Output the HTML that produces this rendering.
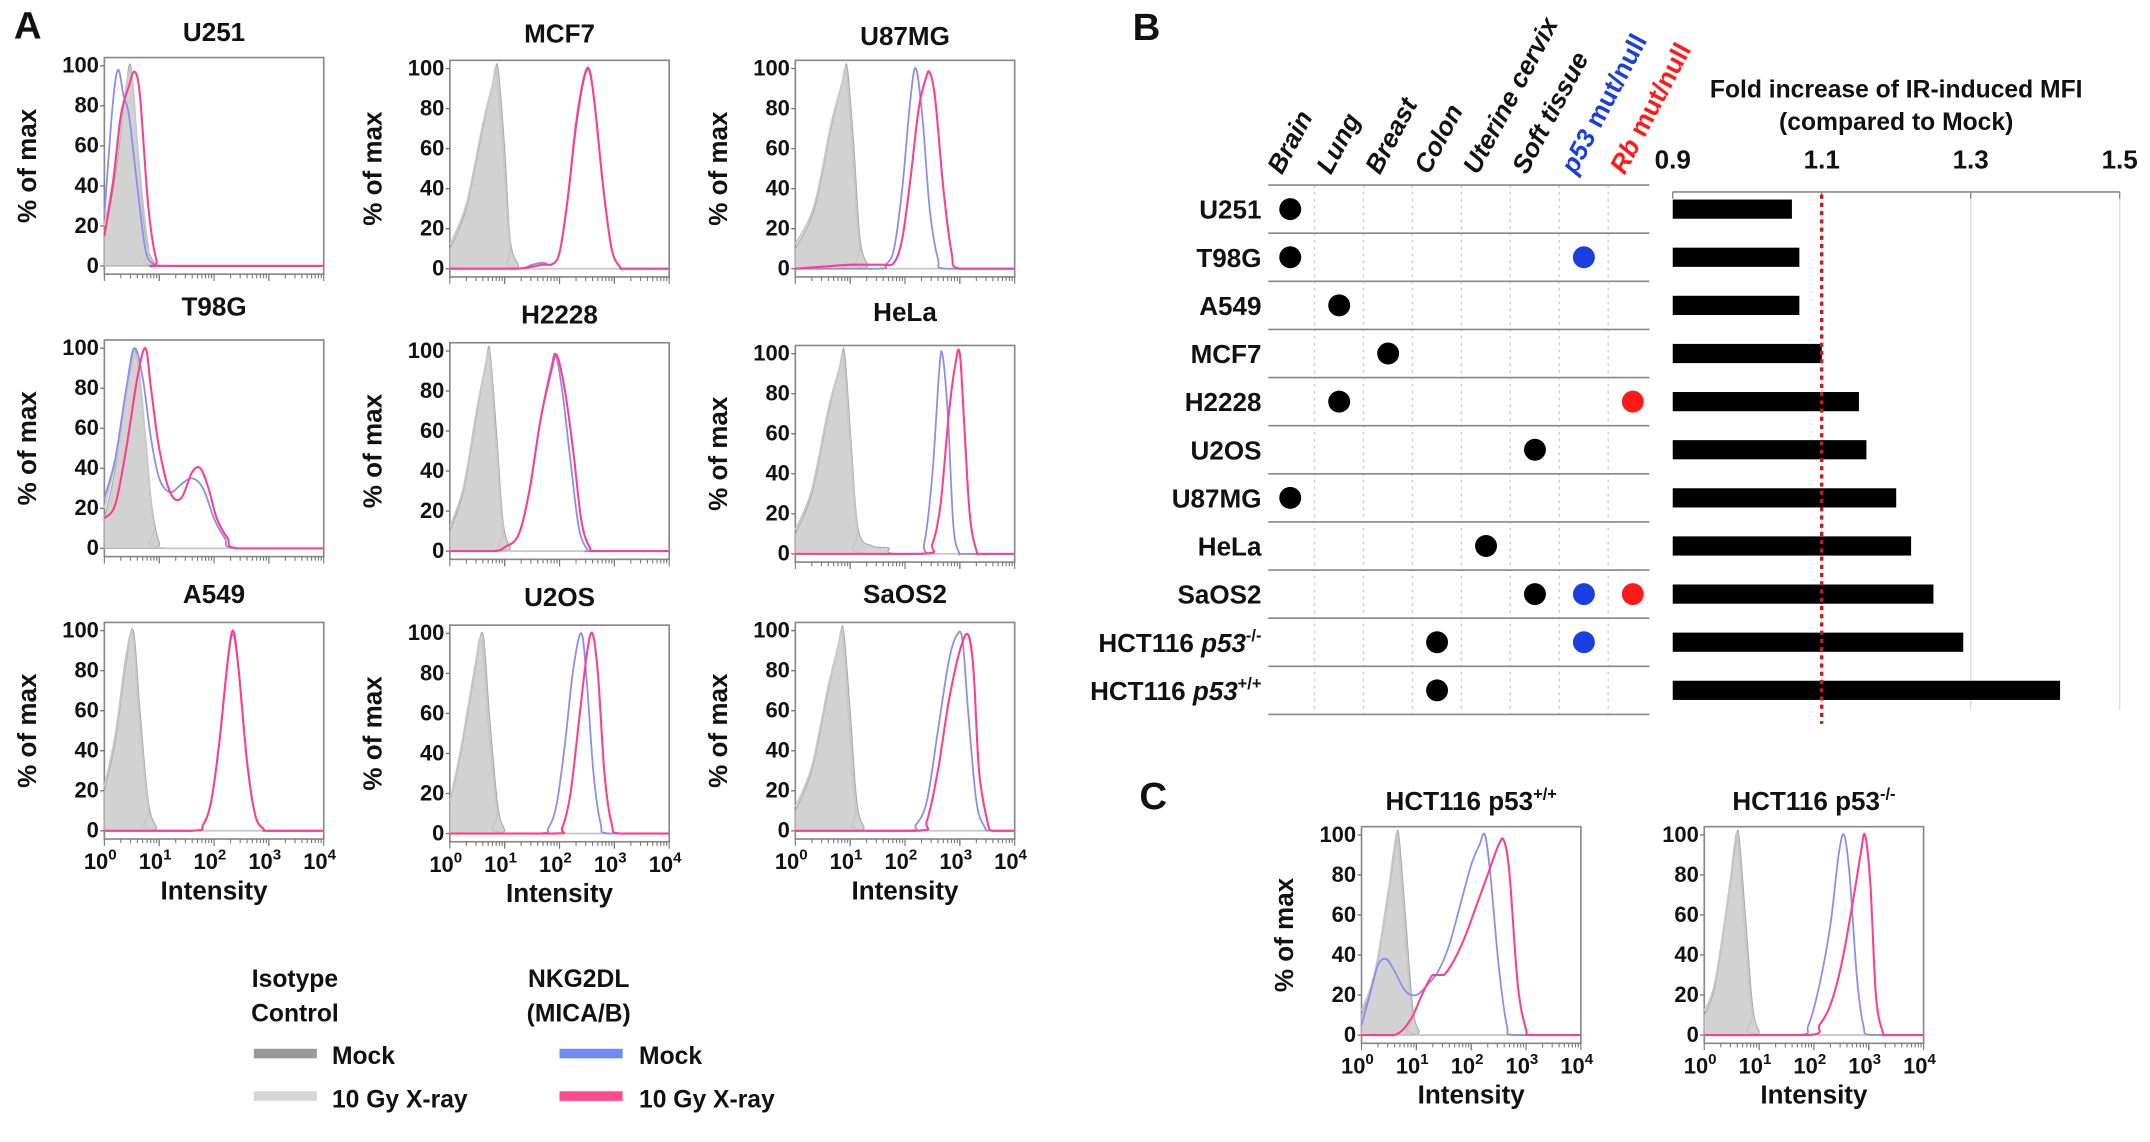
<!DOCTYPE html>
<html><head><meta charset="utf-8"><style>
html,body{margin:0;padding:0;background:#fff}
svg{display:block}
text{font-family:"Liberation Sans",Arial,sans-serif;font-weight:bold}
</style></head><body>
<svg id="fig" width="2150" height="1142" viewBox="0 0 1568 833" xmlns="http://www.w3.org/2000/svg" fill="#111">
<text x="10" y="28" font-size="28">A</text>
<text x="826" y="29" font-size="28">B</text>
<text x="831" y="590" font-size="28">C</text>
<g id="legend">
<text x="215" y="720" font-size="18" text-anchor="middle">Isotype</text>
<text x="215" y="745" font-size="18" text-anchor="middle">Control</text>
<rect x="185" y="765" width="46" height="7" fill="#9a9a9a"/>
<text x="242" y="776" font-size="18">Mock</text>
<rect x="185" y="796" width="46" height="7" fill="#d6d6d6"/>
<text x="242" y="808" font-size="18">10 Gy X-ray</text>
<text x="422" y="720" font-size="18" text-anchor="middle">NKG2DL</text>
<text x="422" y="745" font-size="18" text-anchor="middle">(MICA/B)</text>
<rect x="408" y="765" width="46" height="7" fill="#6f8cf5"/>
<text x="466" y="776" font-size="18">Mock</text>
<rect x="408" y="796" width="46" height="7" fill="#ff4b8d"/>
<text x="466" y="808" font-size="18">10 Gy X-ray</text>
</g>
</svg>
<script>
// ---------- Panel B data ----------
const cellLines = ["U251","T98G","A549","MCF7","H2228","U2OS","U87MG","HeLa","SaOS2","HCT116 p53-/-","HCT116 p53+/+"];
const foldValues = [1.06,1.07,1.07,1.10,1.15,1.16,1.20,1.22,1.25,1.29,1.42];
const tissueCols = ["Brain","Lung","Breast","Colon","Uterine cervix","Soft tissue","p53 mut/null","Rb mut/null"];
const tissueIdx = [0,0,1,2,1,5,0,4,5,3,3];
const p53Mut = [0,1,0,0,0,0,0,0,1,1,0];
const rbMut = [0,0,0,0,1,0,0,0,1,0,0];
const foldTicks = [0.9,1.1,1.3,1.5];
const refLine = 1.1;

// ---------- Panel A/C histogram data: [log10 intensity, % of max] ----------
const titles = ["U251","MCF7","U87MG","T98G","H2228","HeLa","A549","U2OS","SaOS2","HCT116 p53+/+","HCT116 p53-/-"];
const grayMock = [
 [[0,15],[0.2,45],[0.38,85],[0.48,100],[0.6,60],[0.75,15],[0.9,2],[1.05,0],[4,0]],
 [[0,10],[0.3,30],[0.6,70],[0.8,95],[0.88,100],[1.0,60],[1.1,15],[1.25,2],[1.4,0],[4,0]],
 [[0,10],[0.35,30],[0.65,70],[0.87,95],[0.95,100],[1.07,60],[1.18,15],[1.32,2],[1.45,0],[4,0]],
 [[0,15],[0.2,40],[0.4,80],[0.55,100],[0.7,70],[0.85,25],[1.0,3],[1.2,0],[4,0]],
 [[0,10],[0.25,30],[0.5,70],[0.66,95],[0.73,100],[0.85,60],[0.97,15],[1.1,2],[1.25,0],[4,0]],
 [[0,10],[0.3,30],[0.6,70],[0.82,95],[0.9,100],[1.02,55],[1.15,12],[1.4,4],[1.7,3],[1.9,0],[4,0]],
 [[0,20],[0.2,45],[0.4,85],[0.53,100],[0.65,60],[0.8,15],[0.95,2],[1.1,0],[4,0]],
 [[0,15],[0.2,40],[0.45,80],[0.6,100],[0.72,60],[0.87,15],[1.0,2],[1.15,0],[4,0]],
 [[0,10],[0.3,30],[0.6,70],[0.8,95],[0.88,100],[1.0,60],[1.12,15],[1.25,2],[1.4,0],[4,0]],
 [[0,10],[0.25,30],[0.5,72],[0.62,95],[0.68,100],[0.8,60],[0.93,15],[1.05,2],[1.2,0],[4,0]],
 [[0,10],[0.2,25],[0.45,70],[0.57,95],[0.63,100],[0.75,60],[0.88,15],[1.0,2],[1.15,0],[4,0]]
];
const grayIR = [
 [[0,20],[0.2,50],[0.4,90],[0.5,95],[0.62,55],[0.8,10],[1,0],[4,0]],
 [[0,12],[0.3,32],[0.6,72],[0.78,92],[0.85,98],[0.98,55],[1.1,12],[1.3,0],[4,0]],
 [[0,12],[0.35,32],[0.65,72],[0.85,92],[0.93,98],[1.05,55],[1.17,12],[1.35,0],[4,0]],
 [[0,20],[0.25,50],[0.45,85],[0.6,95],[0.75,55],[0.9,12],[1.1,0],[4,0]],
 [[0,12],[0.25,32],[0.5,72],[0.65,92],[0.72,98],[0.84,55],[0.97,12],[1.15,0],[4,0]],
 [[0,12],[0.3,32],[0.6,72],[0.8,92],[0.88,98],[1.0,55],[1.13,12],[1.3,0],[4,0]],
 [[0,22],[0.2,48],[0.4,88],[0.52,97],[0.64,55],[0.8,12],[1.0,0],[4,0]],
 [[0,16],[0.2,42],[0.45,82],[0.58,97],[0.7,55],[0.86,12],[1.05,0],[4,0]],
 [[0,12],[0.3,32],[0.6,72],[0.78,92],[0.86,98],[0.98,55],[1.1,12],[1.3,0],[4,0]],
 [[0,12],[0.25,32],[0.5,74],[0.6,94],[0.66,98],[0.78,55],[0.92,12],[1.1,0],[4,0]],
 [[0,12],[0.2,27],[0.45,72],[0.55,94],[0.61,98],[0.73,55],[0.87,12],[1.05,0],[4,0]]
];
const nkMock = [
 [[0,25],[0.15,80],[0.25,98],[0.35,85],[0.45,75],[0.6,40],[0.75,8],[0.9,1],[1.1,0],[4,0]],
 [[0,0],[1.2,0],[1.5,2],[1.7,3],[1.85,2],[2.0,8],[2.15,35],[2.3,70],[2.45,95],[2.55,98],[2.65,80],[2.8,40],[2.95,10],[3.1,1],[3.2,0],[4,0]],
 [[0,0],[1.5,0],[1.65,2],[1.8,10],[1.95,40],[2.1,85],[2.2,100],[2.32,75],[2.45,30],[2.6,5],[2.75,0],[4,0]],
 [[0,25],[0.2,45],[0.4,80],[0.55,100],[0.7,85],[0.85,55],[1.0,35],[1.2,28],[1.4,32],[1.6,35],[1.8,30],[2.0,15],[2.2,5],[2.4,0],[4,0]],
 [[0,0],[0.8,0],[1.0,2],[1.25,8],[1.45,30],[1.65,65],[1.85,92],[1.93,98],[2.05,80],[2.2,45],[2.35,12],[2.5,1],[2.6,0],[4,0]],
 [[0,0],[2.2,0],[2.35,5],[2.5,40],[2.62,90],[2.68,100],[2.78,70],[2.88,15],[2.98,1],[3.1,0],[4,0]],
 [[0,0],[1.6,0],[1.8,3],[1.95,15],[2.1,45],[2.25,85],[2.35,98],[2.45,80],[2.6,35],[2.75,8],[2.9,1],[3.0,0],[4,0]],
 [[0,0],[1.6,0],[1.8,3],[1.95,15],[2.1,45],[2.25,82],[2.4,100],[2.5,75],[2.62,30],[2.75,5],[2.9,0],[4,0]],
 [[0,0],[2.0,0],[2.2,3],[2.4,15],[2.6,50],[2.8,85],[2.95,98],[3.05,95],[3.15,60],[3.3,15],[3.45,2],[3.55,0],[4,0]],
 [[0,5],[0.15,20],[0.3,35],[0.45,38],[0.6,32],[0.8,22],[1.0,20],[1.2,25],[1.4,32],[1.6,45],[1.8,65],[2.0,85],[2.15,95],[2.25,100],[2.35,80],[2.5,35],[2.65,5],[2.8,0],[4,0]],
 [[0,0],[1.7,0],[1.9,5],[2.1,25],[2.3,55],[2.45,90],[2.55,100],[2.65,80],[2.78,30],[2.9,5],[3.05,0],[4,0]]
];
const nkIR = [
 [[0,15],[0.15,40],[0.3,75],[0.45,90],[0.55,97],[0.65,85],[0.8,30],[0.95,3],[1.1,0],[4,0]],
 [[0,0],[1.2,0],[1.5,1],[1.7,2],[1.85,2],[2.0,8],[2.15,35],[2.3,72],[2.45,96],[2.55,99],[2.65,80],[2.8,40],[2.95,10],[3.1,1],[3.2,0],[4,0]],
 [[0,0],[1.0,2],[1.3,2],[1.6,2],[1.8,3],[1.95,15],[2.1,45],[2.25,80],[2.38,95],[2.45,98],[2.55,85],[2.7,40],[2.85,8],[3.0,0],[4,0]],
 [[0,15],[0.2,22],[0.4,50],[0.6,85],[0.75,100],[0.85,80],[1.0,50],[1.2,28],[1.4,25],[1.6,38],[1.75,40],[1.9,30],[2.05,15],[2.25,5],[2.45,0],[4,0]],
 [[0,0],[0.8,0],[1.0,2],[1.25,8],[1.45,30],[1.65,65],[1.85,90],[1.95,98],[2.1,80],[2.25,50],[2.4,15],[2.55,2],[2.7,0],[4,0]],
 [[0,0],[2.3,0],[2.5,5],[2.65,25],[2.8,70],[2.92,95],[3.0,100],[3.08,65],[3.18,20],[3.3,2],[3.4,0],[4,0]],
 [[0,0],[1.6,0],[1.8,3],[1.95,15],[2.1,45],[2.25,85],[2.35,100],[2.45,80],[2.6,35],[2.75,8],[2.9,1],[3.0,0],[4,0]],
 [[0,0],[1.9,0],[2.05,3],[2.2,20],[2.35,55],[2.5,90],[2.6,100],[2.7,80],[2.82,30],[2.95,5],[3.1,0],[4,0]],
 [[0,0],[2.2,0],[2.4,5],[2.6,30],[2.8,65],[3.0,90],[3.15,98],[3.25,80],[3.35,30],[3.5,5],[3.6,0],[4,0]],
 [[0,0],[0.6,0],[0.9,8],[1.1,20],[1.3,30],[1.5,30],[1.7,38],[1.9,50],[2.1,65],[2.3,80],[2.5,95],[2.6,97],[2.7,80],[2.85,25],[3.0,3],[3.1,0],[4,0]],
 [[0,0],[1.9,0],[2.1,5],[2.3,15],[2.5,35],[2.7,65],[2.85,90],[2.93,100],[3.03,75],[3.13,20],[3.25,2],[3.35,0],[4,0]]
];
const yTicks = [0,20,40,60,80,100];
const xTickExp = [0,1,2,3,4];

const NS = "http://www.w3.org/2000/svg";
const svg = document.getElementById("fig");
function mk(tag, attrs, parent){const e=document.createElementNS(NS,tag);for(const k in attrs)e.setAttribute(k,attrs[k]);(parent||svg).appendChild(e);return e;}

const boxes = [
 {x:76,y:42,t:30},{x:328,y:44,t:31},{x:580,y:44,t:33},
 {x:76,y:248,t:230},{x:328,y:250,t:236},{x:580,y:252,t:234},
 {x:76,y:454,t:440},{x:328,y:456,t:442},{x:580,y:454,t:440},
 {x:993,y:603,t:591},{x:1243,y:603,t:591}
];
const BW=160, BH=158;

function smoothPath(pts){
  let d="M"+pts[0][0]+","+pts[0][1];
  for(let i=0;i<pts.length-1;i++){
    const p0=pts[Math.max(0,i-1)],p1=pts[i],p2=pts[i+1],p3=pts[Math.min(pts.length-1,i+2)];
    let c1y=p1[1]+(p2[1]-p0[1])/6, c2y=p2[1]-(p3[1]-p1[1])/6;
    if(p1[1]===p2[1]){c1y=p1[1];c2y=p2[1];}
    d+=" C"+(p1[0]+(p2[0]-p0[0])/6)+","+c1y+" "+(p2[0]-(p3[0]-p1[0])/6)+","+c2y+" "+p2[0]+","+p2[1];
  }
  return d;
}

boxes.forEach((b,i)=>{
  const g=mk("g",{});
  
  
  const xs=l=>b.x+l/4*BW;
  const base=b.y+BH-6, top=b.y+6;
  const ys=v=>base-v/100*(base-top);
  const tt=mk("text",{x:b.x+BW/2,y:b.t,"font-size":19,"text-anchor":"middle"},g);
  
  
  const m=titles[i].match(/^(HCT116 p53)(.*)$/);
  if(m){tt.textContent=m[1];const s=mk("tspan",{dy:-8,"font-size":12},tt);s.textContent=m[2];}
  else tt.textContent=titles[i];
  const fr=mk("rect",{x:b.x,y:b.y,width:BW,height:BH,fill:"none",stroke:"#888","stroke-width":1.2},g);
  
  
  yTicks.forEach(v=>{
    const t=mk("text",{x:b.x-4,y:ys(v)+5,"font-size":16,"text-anchor":"end"},g);
    t.textContent=v;
    
    
    mk("line",{x1:b.x-3,x2:b.x,y1:ys(v),y2:ys(v),stroke:"#777"},g);
  });
  const show = (i>=6);
  for(let d=0;d<4;d++)for(let k=1;k<=10;k++){
    const xx=xs(d+Math.log10(k));
    mk("line",{x1:xx,x2:xx,y1:b.y+BH,y2:b.y+BH+(k===1||k===10?5:3),stroke:"#777","stroke-width":0.8},g);
  }
  if(show){
    xTickExp.forEach(e=>{
      const t=mk("text",{x:xs(e)-3,y:b.y+BH+22,"font-size":16,"text-anchor":"middle"},g);
      
      
      t.textContent="10";const s=mk("tspan",{dy:-7,"font-size":11},t);s.textContent=e;
    });
    const xl=mk("text",{x:b.x+BW/2,y:b.y+BH+44,"font-size":19,"text-anchor":"middle"},g);
    xl.textContent="Intensity";
    
    
  }
  if(i!==10){
    const cx=b.x-50, cy=b.y+BH/2;
    const yl=mk("text",{x:cx,y:cy,"font-size":19,"text-anchor":"middle",transform:"rotate(-90 "+cx+" "+cy+")"},g);
    yl.textContent="% of max";
    
    
  }
  const tp=a=>a.map(p=>[xs(p[0]),ys(p[1])]);
  const gm=tp(grayMock[i]);
  const fill=mk("path",{d:smoothPath(gm)+" L"+xs(4)+","+base+" L"+xs(0)+","+base+" Z",fill:"#d2d2d2",stroke:"#aaa","stroke-width":0.8},g);
  
  
  const gi=mk("path",{d:smoothPath(tp(grayIR[i])),fill:"none",stroke:"#c8c8c8","stroke-width":1.3},g);
  
  
  const bl=mk("path",{d:smoothPath(tp(nkMock[i])),fill:"none",stroke:"#8c8cf2","stroke-width":1.3},g);
  
  
  const pk=mk("path",{d:smoothPath(tp(nkIR[i])),fill:"none",stroke:"#ff3d8b","stroke-width":1.5},g);
  
  
});

// ---------- Panel B ----------
const TL=925, TR=1203, rowTop=135, rowH=35.1;
const colX=c=>941+c*35.7;
const rowY=r=>rowTop+rowH*(r+0.5);
const bx=v=>1220+(v-0.9)/0.6*326;
const gB=mk("g",{});


tissueCols.forEach((c,k)=>{
  if(k>0){mk("line",{x1:colX(k)-18,x2:colX(k)-18,y1:rowTop,y2:rowTop+rowH*11,stroke:"#ccc","stroke-dasharray":"2,3"},gB);}
  const x=colX(k)-6,y=128;
  const t=mk("text",{x:x,y:y,"font-size":19,transform:"rotate(-62 "+x+" "+y+")",fill:k===6?"#1a3fe0":(k===7?"#ff1a1a":"#111"),"font-style":k>=6?"normal":"italic"},gB);
  
  
  if(k===6){const a=mk("tspan",{"font-style":"italic"},t);a.textContent="p53";const b2=mk("tspan",{},t);b2.textContent=" mut/null";}
  else if(k===7){const a=mk("tspan",{"font-style":"italic"},t);a.textContent="Rb";const b2=mk("tspan",{},t);b2.textContent=" mut/null";}
  else t.textContent=c;
});
for(let r=0;r<=11;r++){
  mk("line",{x1:TL,x2:TR,y1:rowTop+rowH*r,y2:rowTop+rowH*r,stroke:"#888","stroke-width":1.2},gB);
}
mk("line",{x1:bx(0.9),x2:bx(1.5),y1:140,y2:140,stroke:"#888","stroke-width":1.2},gB);
foldTicks.forEach(v=>{
  mk("line",{x1:bx(v),x2:bx(v),y1:140,y2:145,stroke:"#888"},gB);
  if(v>0.9) mk("line",{x1:bx(v),x2:bx(v),y1:145,y2:518,stroke:"#ddd"},gB);
  const t=mk("text",{x:bx(v),y:123,"font-size":19,"text-anchor":"middle"},gB);
  t.textContent=v.toFixed(1);
  
  
});
const t1=mk("text",{x:1383,y:71,"font-size":18,"text-anchor":"middle"},gB);t1.textContent="Fold increase of IR-induced MFI";


const t2=mk("text",{x:1383,y:95,"font-size":18,"text-anchor":"middle"},gB);t2.textContent="(compared to Mock)";


cellLines.forEach((n,r)=>{
  const y=rowY(r);
  const t=mk("text",{x:920,y:y+7,"font-size":19,"text-anchor":"end"},gB);
  
  
  const m=n.match(/^(HCT116 )(p53)(.*)$/);
  if(m){const a=mk("tspan",{},t);a.textContent=m[1];const b2=mk("tspan",{"font-style":"italic"},t);b2.textContent=m[2];const c=mk("tspan",{dy:-8,"font-size":12},t);c.textContent=m[3];}
  else t.textContent=n;
  const d=mk("circle",{cx:colX(tissueIdx[r]),cy:y,r:8,fill:"#000"},gB);
  
  
  if(p53Mut[r]){const c=mk("circle",{cx:colX(6),cy:y,r:8,fill:"#1a3fe0"},gB);}
  if(rbMut[r]){const c=mk("circle",{cx:colX(7),cy:y,r:8,fill:"#ff1a1a"},gB);}
  const bar=mk("rect",{x:bx(0.9),y:y-7,width:bx(foldValues[r])-bx(0.9),height:14,fill:"#000"},gB);
  
  
});
const rl=mk("line",{x1:bx(refLine),x2:bx(refLine),y1:142,y2:528,stroke:"#d01818","stroke-width":2.5,"stroke-dasharray":"3,3"},gB);


</script>
</body></html>
